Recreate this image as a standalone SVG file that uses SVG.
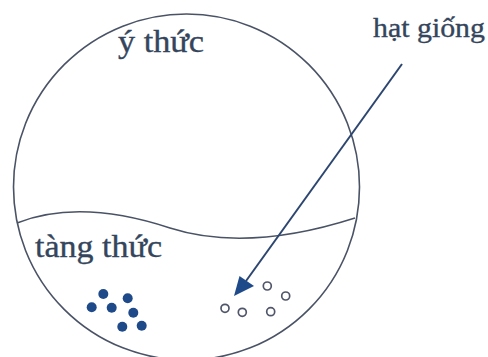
<svg xmlns="http://www.w3.org/2000/svg" width="488" height="357" viewBox="0 0 488 357">
  <style>
    .lbl { font-family: "Liberation Serif", "Times New Roman", serif; fill: #34455c; stroke: #34455c; stroke-width: 0.35; }
    .outline { fill: none; stroke: #4a5366; stroke-width: 1.6; }
    .seed { fill: #1f4a8a; }
    .open { fill: none; stroke: #50566a; stroke-width: 1.7; }
  </style>
  <rect width="488" height="357" fill="#ffffff"/>
  <g id="mind">
    <circle class="outline" cx="186.5" cy="187" r="173"/>
    <path class="outline" d="M17,223 C50,210 100,205 170,228 C220,244 280,242 355,218"/>
  </g>
  <g id="y-thuc">
    <text class="lbl" x="118" y="52" font-size="31" textLength="86" lengthAdjust="spacingAndGlyphs">ý thức</text>
  </g>
  <g id="tang-thuc">
    <text class="lbl" x="35" y="257" font-size="31" textLength="127" lengthAdjust="spacingAndGlyphs">tàng thức</text>
  </g>
  <g id="hat-giong">
    <text class="lbl" x="373" y="37" font-size="28" textLength="112" lengthAdjust="spacingAndGlyphs">hạt giống</text>
  </g>
  <g id="seeds-filled">
    <circle class="seed" cx="103.3" cy="294" r="5"/>
    <circle class="seed" cx="127.7" cy="298.3" r="5"/>
    <circle class="seed" cx="91.7" cy="307.3" r="5"/>
    <circle class="seed" cx="111.7" cy="307.7" r="5"/>
    <circle class="seed" cx="133.3" cy="312.7" r="5"/>
    <circle class="seed" cx="122.3" cy="326.7" r="5"/>
    <circle class="seed" cx="141.7" cy="325.7" r="5"/>
  </g>
  <g id="seeds-open">
    <circle class="open" cx="225" cy="308.3" r="4"/>
    <circle class="open" cx="242.3" cy="312.3" r="4"/>
    <circle class="open" cx="267.3" cy="286" r="4"/>
    <circle class="open" cx="285.7" cy="296" r="4"/>
    <circle class="open" cx="270.7" cy="311.7" r="4"/>
  </g>
  <g id="connectors">
    <line x1="402" y1="64" x2="246" y2="281" stroke="#2c4670" stroke-width="2"/>
    <polygon points="234,296 239.5,276 254,286" fill="#1f4a8a"/>
  </g>
</svg>
